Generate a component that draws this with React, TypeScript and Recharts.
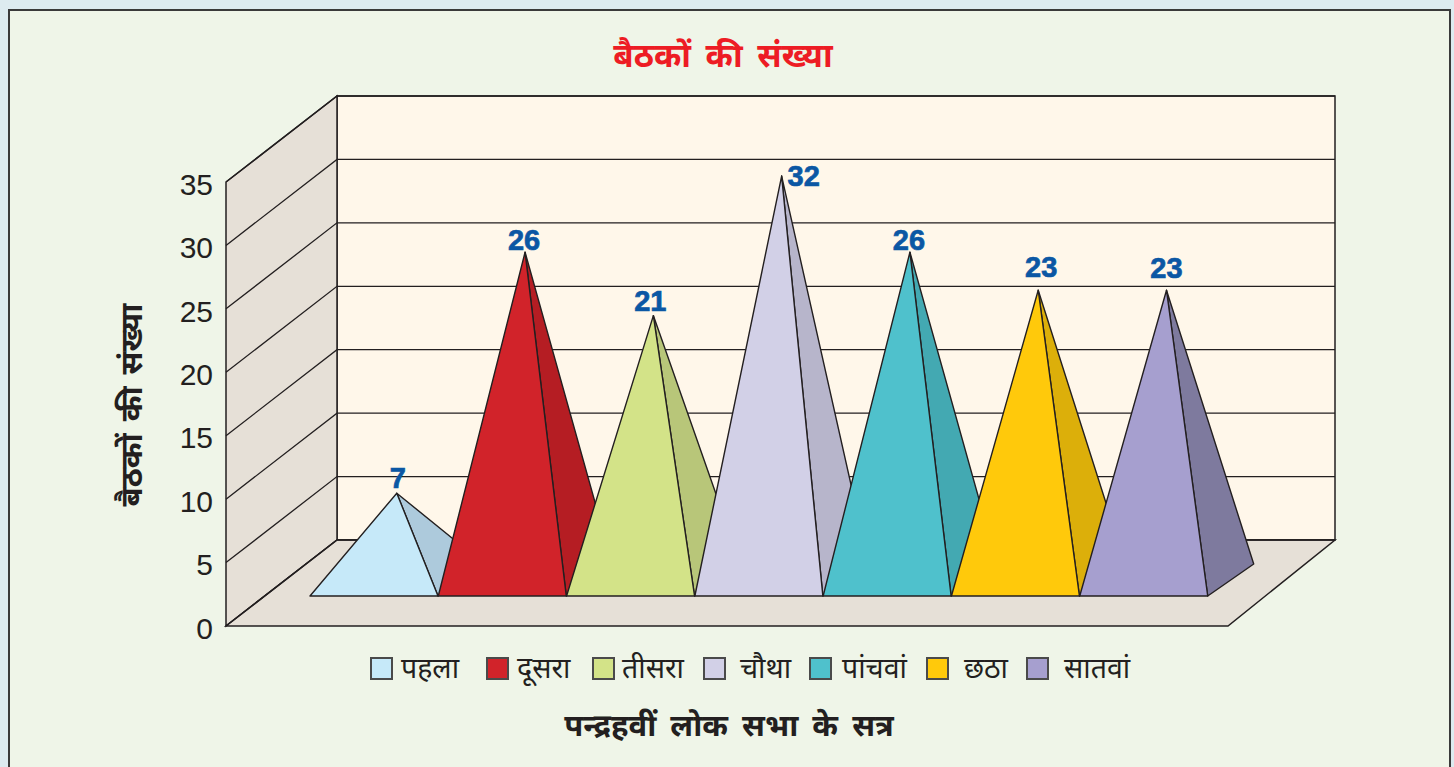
import * as React from 'react';
import { Bar, BarChart, CartesianGrid, Cell, LabelList, Legend, XAxis, YAxis } from 'recharts';

// Data
const sessions = ['पहला', 'दूसरा', 'तीसरा', 'चौथा', 'पांचवां', 'छठा', 'सातवां'];
const sittings = [7, 26, 21, 32, 26, 23, 23];
const yTicks = [0, 5, 10, 15, 20, 25, 30, 35];

const chartTitle = 'बैठकों की संख्या';
const yTitle = 'बैठकों की संख्या';
const xTitle = 'पन्द्रहवीं लोक सभा के सत्र';

// Colours
const frontColors = ['#C6E9F9', '#D1232A', '#D3E388', '#D2D0E7', '#4FC1CC', '#FFC90B', '#A69FCF'];
const sideColors = ['#ADCADC', '#B51D23', '#B8C679', '#B7B5CB', '#43A9B2', '#DCAF0A', '#7E7A9E'];
const INK = '#231F20';
const WALL = '#E6E0D7';
const BACK = '#FFF7EA';

// Layout of the fake 3D box
const WIDTH = 1454;
const HEIGHT = 767;
const PLOT_LEFT = 226;
const PLOT_RIGHT = 1228;
const PLOT_TOP = 182;
const PLOT_BOTTOM = 626;
const AXIS_WIDTH = 60;
const BACK_LEFT = 337;
const BACK_RIGHT = 1335;
const DEPTH_Y = 86;

// Pyramids stand part way into the box
const APEX_LIFT = 44;
const BASE_LIFT = 30;
const APEX_SHARE = 0.678;
const SIDE_DX = 46;
const SIDE_DY = 32;

// Small hand nudges for the value labels, same order as the categories
const labelNudgeX = [1, -1, -3, 22, -1, 3, 0];
const labelNudgeY = [-15, -12, -15, 0, -12, -23, -22];
const legendSwatchX = [370, 486, 592, 703, 809, 926, 1026];
const legendTextX = [401, 517, 622, 740, 842, 964, 1064];

const chartData = sessions.map((name, i) => ({ name, value: sittings[i] }));

const FONT = '"Liberation Sans", Arial, sans-serif';
const HINDI = '"Noto Sans", "Noto Sans Devanagari", "Lohit Devanagari", "Liberation Sans", sans-serif';

// Walls and floor sit in their own svg under the chart so the grid lines land on top
function Box() {
    const pts = (list: number[][]) => list.map((p) => p.join(',')).join(' ');
    const backT = PLOT_TOP - DEPTH_Y;
    const backB = PLOT_BOTTOM - DEPTH_Y;
    return (
        <svg width={WIDTH} height={HEIGHT} style={{ position: 'absolute', left: 0, top: 0 }}>
            <g stroke={INK} strokeWidth={1.5} strokeLinejoin="miter">
                <polygon points={pts([[BACK_LEFT, backT], [BACK_RIGHT, backT], [BACK_RIGHT, backB], [BACK_LEFT, backB]])} fill={BACK} />
                <polygon points={pts([[PLOT_LEFT, PLOT_TOP], [BACK_LEFT, backT], [BACK_LEFT, backB], [PLOT_LEFT, PLOT_BOTTOM]])} fill={WALL} />
                <polygon points={pts([[PLOT_LEFT, PLOT_BOTTOM], [PLOT_RIGHT, PLOT_BOTTOM], [BACK_RIGHT, backB], [BACK_LEFT, backB]])} fill={WALL} />
            </g>
        </svg>
    );
}

function gridLine(props: any) {
    const { y1, key } = props;
    return (
        <polyline
            key={key}
            points={`${PLOT_LEFT},${y1} ${BACK_LEFT},${y1 - DEPTH_Y} ${BACK_RIGHT},${y1 - DEPTH_Y}`}
            fill="none"
            stroke={INK}
            strokeWidth={1.3}
        />
    );
}

function Pyramid(props: any) {
    const { x, y, width, height, index } = props;
    const baseY = y + height - BASE_LIFT;
    const apexX = x + width * APEX_SHARE;
    const apexY = y - APEX_LIFT;
    const right = x + width;
    return (
        <g stroke={INK} strokeWidth={1.4} strokeLinejoin="round">
            <polygon
                points={`${apexX},${apexY} ${right},${baseY} ${right + SIDE_DX},${baseY - SIDE_DY}`}
                fill={sideColors[index]}
            />
            <polygon points={`${apexX},${apexY} ${x},${baseY} ${right},${baseY}`} fill={frontColors[index]} />
        </g>
    );
}

function ValueLabel(props: any) {
    const { x, y, width, value, index } = props;
    return (
        <text
            x={x + width * APEX_SHARE + labelNudgeX[index]}
            y={y - APEX_LIFT + labelNudgeY[index]}
            textAnchor="middle"
            dominantBaseline="central"
            fontFamily={FONT}
            fontWeight={700}
            fontSize={29}
            fill="#0B57A4"
            stroke="#0B57A4"
            strokeWidth={0.7}
        >
            {value}
        </text>
    );
}

function SessionLegend() {
    return (
        <div style={{ position: 'relative', height: 0, fontFamily: HINDI, fontSize: 28.5, color: INK }}>
            {sessions.map((name, i) => (
                <React.Fragment key={name}>
                    <span
                        style={{
                            position: 'absolute',
                            left: legendSwatchX[i],
                            top: -1,
                            width: 19,
                            height: 19,
                            background: frontColors[i],
                            border: '2px solid #4A4A4A',
                        }}
                    />
                    <span style={{ position: 'absolute', left: legendTextX[i], top: -9, lineHeight: '36px', whiteSpace: 'nowrap' }}>
                        {name}
                    </span>
                </React.Fragment>
            ))}
        </div>
    );
}

export default function App() {
    return (
        <div style={{ position: 'absolute', left: 0, top: 0, width: WIDTH, height: HEIGHT, overflow: 'hidden', background: '#DDEBF0' }}>
            <div
                style={{
                    position: 'absolute',
                    left: 8,
                    top: 9,
                    width: 1439,
                    height: 800,
                    background: '#EFF5E8',
                    border: '2px solid #3A3A3A',
                }}
            />
            <Box />
            <div style={{ position: 'absolute', left: 0, top: 0 }}>
                <BarChart
                    width={WIDTH}
                    height={HEIGHT}
                    data={chartData}
                    barCategoryGap={0}
                    margin={{
                        top: PLOT_TOP,
                        right: WIDTH - PLOT_RIGHT,
                        bottom: HEIGHT - PLOT_BOTTOM,
                        left: PLOT_LEFT - AXIS_WIDTH,
                    }}
                >
                    <CartesianGrid horizontal={gridLine} vertical={false} />
                    <XAxis dataKey="name" hide padding={{ left: 84, right: 20 }} />
                    <YAxis
                        width={AXIS_WIDTH}
                        domain={[0, 35]}
                        ticks={yTicks}
                        interval={0}
                        axisLine={false}
                        tickLine={false}
                        tickMargin={7}
                        tick={{ fontFamily: FONT, fontSize: 30, fill: INK, dy: 2 }}
                    />
                    <Legend
                        content={<SessionLegend />}
                        verticalAlign="top"
                        wrapperStyle={{ position: 'absolute', left: 0, top: 658, width: WIDTH, height: 0 }}
                    />
                    <Bar dataKey="value" shape={<Pyramid />} isAnimationActive={false} legendType="none">
                        {sessions.map((name, i) => (
                            <Cell key={name} fill={frontColors[i]} />
                        ))}
                        <LabelList dataKey="value" content={<ValueLabel />} />
                    </Bar>
                    <text x={723} y={54} textAnchor="middle" dominantBaseline="central" fontFamily={HINDI} fontWeight={700} fontSize={33} wordSpacing={6} fill="#ED1C24">
                        {chartTitle}
                    </text>
                    <text
                        x={130}
                        y={405}
                        transform="rotate(-90 130 405)"
                        textAnchor="middle"
                        dominantBaseline="central"
                        fontFamily={HINDI}
                        fontWeight={700}
                        fontSize={31}
                        wordSpacing={4}
                        fill={INK}
                    >
                        {yTitle}
                    </text>
                    <text x={729} y={724} textAnchor="middle" dominantBaseline="central" fontFamily={HINDI} fontWeight={700} fontSize={31} wordSpacing={6} fill={INK}>
                        {xTitle}
                    </text>
                </BarChart>
            </div>
        </div>
    );
}
